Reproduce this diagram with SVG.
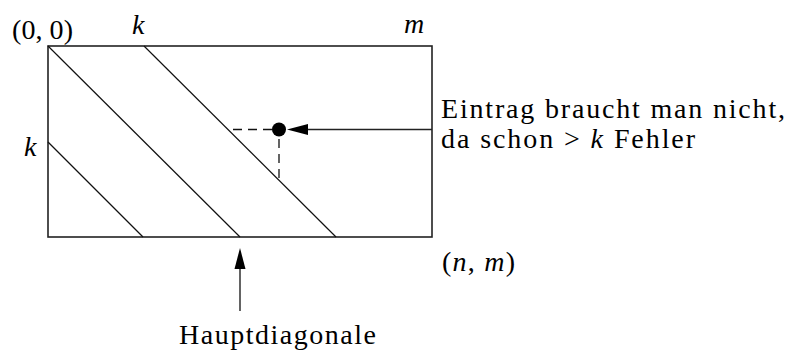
<svg xmlns="http://www.w3.org/2000/svg" width="791" height="353" viewBox="0 0 791 353">
<style>
.box{fill:none;stroke:#222;stroke-width:1.6}
.d{fill:none;stroke:#111;stroke-width:1.2}
.ds{fill:none;stroke:#111;stroke-width:1.3;stroke-dasharray:9,6}
.a{fill:none;stroke:#222;stroke-width:1.4}
</style>
<rect width="791" height="353" fill="#fff"/>
<g id="matrix">
<rect class="box" x="48" y="46" width="384" height="191"/>
<line class="d" x1="48" y1="46" x2="240" y2="237"/>
<line class="d" x1="144" y1="46" x2="336" y2="237"/>
<line class="d" x1="48" y1="142" x2="143" y2="237"/>
</g>
<g id="entry">
<circle cx="279" cy="129.5" r="7" fill="#000"/>
</g>
<g id="connectors">
<path class="ds" d="M272,129.5 H228"/>
<path class="ds" d="M279,139 V180"/>
<line class="a" x1="432" y1="129.5" x2="305" y2="129.5"/>
<polygon points="287,129.5 308,124 308,135" fill="#000"/>
<line class="a" x1="240" y1="311" x2="240" y2="266"/>
<polygon points="240,248 234.5,269 245.5,269" fill="#000"/>
</g>
<g id="labels" font-family="Liberation Serif, serif" font-size="28" fill="#000">
<text x="12" y="39" textLength="61">(0, 0)</text>
<text x="132" y="34" font-style="italic">k</text>
<text x="404" y="33" font-style="italic">m</text>
<text x="24" y="156" font-style="italic">k</text>
<text x="442" y="271" textLength="73">(<tspan font-style="italic">n</tspan>, <tspan font-style="italic">m</tspan>)</text>
<text x="441" y="118" textLength="344">Eintrag braucht man nicht,</text>
<text x="441" y="148" textLength="254">da schon &gt; <tspan font-style="italic">k</tspan> Fehler</text>
<text x="179" y="344" textLength="197">Hauptdiagonale</text>
</g>
</svg>
